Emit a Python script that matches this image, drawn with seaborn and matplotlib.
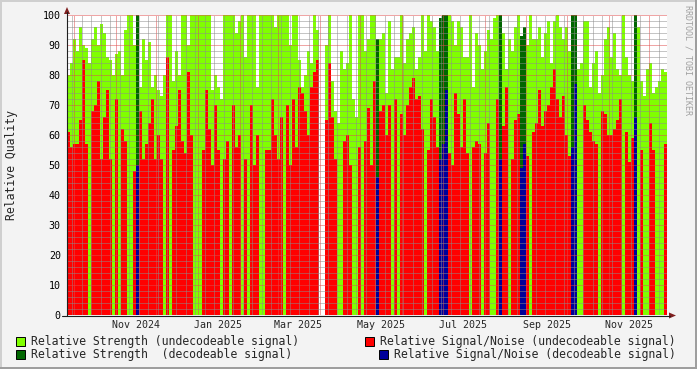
import numpy as np
import pandas as pd
import matplotlib
matplotlib.use('Agg')
import matplotlib.pyplot as plt
import seaborn as sns
from matplotlib.patches import Rectangle, Polygon
from matplotlib.lines import Line2D
from matplotlib.ticker import MultipleLocator

W, H = 697, 369

# time span of the graph
start = pd.Timestamp('2024-09-26')
end = pd.Timestamp('2025-12-14')

# relative strength per time bin (nan = no data)
strength = [
    80, 84, 92, 88, 96, 90, 89, 84, 92, 96,
    90, 97, 94, 86, 85, 80, 87, 88, 80, 95,
    100, 100, 90, 100, 76, 92, 85, 91, 76, 80,
    75, 73, 80, 100, 100, 78, 88, 80, 100, 100,
    90, 100, 100, 100, 100, 100, 100, 100, 75, 80,
    76, 72, 100, 100, 100, 100, 94, 98, 100, 86,
    100, 100, 100, 76, 100, 100, 100, 100, 100, 96,
    100, 100, 100, 100, 90, 100, 100, 85, 76, 80,
    88, 84, 100, 95, np.nan, np.nan, 90, 100, 78, 68,
    64, 88, 82, 84, 100, 72, 66, 100, 100, 88,
    92, 100, 100, 92, 92, 94, 74, 98, 82, 86,
    86, 100, 84, 92, 94, 96, 82, 86, 100, 88,
    100, 98, 96, 88, 99, 100, 100, 100, 98, 90,
    98, 96, 86, 86, 100, 76, 94, 90, 82, 88,
    95, 92, 99, 100, 100, 94, 82, 92, 88, 96,
    100, 93, 96, 90, 100, 92, 92, 96, 86, 94,
    98, 84, 98, 100, 96, 92, 96, 88, 100, 100,
    82, 84, 98, 98, 76, 84, 88, 74, 80, 92,
    96, 86, 94, 82, 80, 100, 86, 80, 78, 100,
    96, 78, 73, 82, 84, 74, 76, 78, 82, 81,
]

# relative signal/noise per time bin (0 = not measured)
snr = [
    61, 56, 57, 57, 65, 85, 57, 0, 68, 70,
    78, 52, 66, 75, 52, 0, 72, 0, 62, 58,
    0, 0, 48, 50, 68, 52, 57, 64, 72, 52,
    60, 52, 0, 86, 0, 55, 63, 75, 58, 54,
    81, 60, 0, 0, 0, 55, 75, 62, 50, 70,
    55, 0, 52, 58, 0, 70, 56, 60, 0, 52,
    0, 70, 50, 60, 0, 0, 55, 55, 72, 60,
    52, 66, 0, 70, 50, 72, 56, 76, 74, 68,
    60, 76, 81, 85, np.nan, np.nan, 65, 84, 66, 52,
    0, 0, 58, 60, 50, 0, 0, 56, 0, 58,
    69, 50, 78, 46, 68, 70, 60, 70, 0, 72,
    0, 67, 60, 70, 76, 79, 72, 73, 62, 0,
    55, 72, 66, 56, 52, 57, 75, 54, 50, 74,
    67, 56, 72, 54, 0, 56, 58, 57, 0, 54,
    64, 0, 0, 72, 52, 63, 76, 0, 52, 65,
    67, 49, 57, 53, 0, 61, 64, 75, 63, 68,
    70, 76, 82, 72, 66, 73, 60, 53, 56, 77,
    0, 0, 70, 65, 61, 58, 57, 0, 68, 67,
    60, 60, 62, 65, 72, 0, 61, 51, 59, 66,
    0, 55, 0, 0, 64, 55, 0, 0, 0, 57,
]

# bins where the signal could be decoded
decoded_bins = [23, 103, 124, 125, 126, 144, 151, 152, 168, 169, 189]

legend_labels = [
    'Relative Strength (undecodeable signal)',
    'Relative Signal/Noise (undecodeable signal)',
    'Relative Strength  (decodeable signal)',
    'Relative Signal/Noise (decodeable signal)',
]
colors = ['#80FF00', '#FF0000', '#006600', '#000099']

n = len(strength)
span = (end - start).days
edges = np.linspace(0, span, n + 1)
centers = (edges[:-1] + edges[1:]) / 2

S = np.nan_to_num(np.array(strength, dtype=float))
R = np.nan_to_num(np.array(snr, dtype=float))
dec = np.zeros(n, dtype=bool)
dec[decoded_bins] = True

df = pd.DataFrame({
    't': centers,
    'str_undec': np.where(dec, 0, S),
    'snr_undec': np.where(dec, 0, R),
    'str_dec': np.where(dec, S, 0),
    'snr_dec': np.where(dec, R, 0),
})

sns.set_style('white')
plt.rcParams['font.family'] = ['DejaVu Sans Mono']


def fx(x):
    return x / W


def fy(y):
    return 1 - y / H


fig = plt.figure(figsize=(W / 100, H / 100), dpi=100, facecolor='#F3F3F3')
ax = fig.add_axes([fx(67), fy(315), 600 / W, 300 / H])
ax.set_facecolor('white')

for col, c in zip(['str_undec', 'snr_undec', 'str_dec', 'snr_dec'], colors):
    sns.histplot(data=df, x='t', weights=col, bins=n, binrange=(0, span), element='step',
                 fill=True, color=c, alpha=1, linewidth=0, ax=ax)

ax.set_xlim(0, span)
ax.set_ylim(0, 100)
ax.set_xlabel('')
ax.set_ylabel('')
for s in ax.spines.values():
    s.set_visible(False)

# x grid: months major, weeks minor
month_starts = pd.date_range('2024-10-01', '2025-12-01', freq='MS')
weeks = pd.date_range(start, end, freq='W-MON')
ax.set_xticks([(d - start).days for d in month_starts])
ax.set_xticks([(d - start).days for d in weeks], minor=True)
ax.set_xticklabels([])
ax.yaxis.set_major_locator(MultipleLocator(10))
ax.yaxis.set_minor_locator(MultipleLocator(2))
ax.set_yticks(range(0, 101, 10))
ax.set_yticklabels([f'{v:d}' for v in range(0, 101, 10)])

ax.tick_params(axis='x', which='major', length=2.5, width=0.72, color='#E05050', direction='inout')
ax.tick_params(axis='x', which='minor', length=1.5, width=0.72, color='#909090', direction='inout')
ax.tick_params(axis='y', which='major', length=2, width=0.72, color='#E05050', direction='out',
               pad=2.5, labelsize=7.2, labelcolor='black')
ax.tick_params(axis='y', which='minor', length=1, width=0.72, color='#909090', direction='out')

ax.set_axisbelow(False)
ax.grid(True, which='minor', color=(0.55, 0.55, 0.55, 0.45), linestyle=(0, (1, 1)), linewidth=0.72)
ax.grid(True, which='major', color=(0.88, 0.3, 0.3, 0.55), linestyle=(0, (1, 1)), linewidth=0.72)

label_months = pd.date_range('2024-11-01', '2025-11-01', freq='2MS')
for d in label_months:
    ax.text((d - start).days + 15, -10 / 300, d.strftime('%b %Y'),
            transform=ax.get_xaxis_transform(), ha='center', va='center', fontsize=7.2)

# axis lines with arrows
fig.add_artist(Line2D([fx(67), fx(67)], [fy(316), fy(12)], color='#1F1F1F', linewidth=0.8))
fig.add_artist(Line2D([fx(62), fx(670)], [fy(315.5), fy(315.5)], color='#1F1F1F', linewidth=0.8))
fig.add_artist(Polygon([[fx(64), fy(14)], [fx(70), fy(14)], [fx(67), fy(7)]], closed=True,
                       color='#7F1F1F', linewidth=0))
fig.add_artist(Polygon([[fx(669), fy(312.5)], [fx(669), fy(318.5)], [fx(676), fy(315.5)]], closed=True,
                       color='#7F1F1F', linewidth=0))

fig.text(fx(12), fy(165), 'Relative Quality', rotation=90, ha='center', va='center', fontsize=8.3)
fig.text(fx(688), fy(60), 'RRDTOOL / TOBI OETIKER', rotation=270, ha='center', va='center',
         fontsize=6, color='#A0A0A0')

# legend
legend_pos = [(16, 341.5), (365, 341.5), (16, 354.5), (379, 354.5)]
for (lx, ly), lab, c in zip(legend_pos, legend_labels, colors):
    fig.add_artist(Rectangle((fx(lx), fy(ly + 4.5)), 9 / W, 9 / H, facecolor=c,
                             edgecolor='black', linewidth=0.7))
    fig.text(fx(lx + 15), fy(ly), lab, ha='left', va='center', fontsize=8.3)

# 3d border
fig.add_artist(Rectangle((0, fy(2)), 1, 2 / H, facecolor='#CFCFCF', linewidth=0))
fig.add_artist(Rectangle((0, 0), 2 / W, 1, facecolor='#CFCFCF', linewidth=0))
fig.add_artist(Rectangle((0, 0), 1, 2 / H, facecolor='#9E9E9E', linewidth=0))
fig.add_artist(Rectangle((fx(695), 0), 2 / W, 1, facecolor='#9E9E9E', linewidth=0))

fig.savefig('out.png', dpi=100, facecolor=fig.get_facecolor())
